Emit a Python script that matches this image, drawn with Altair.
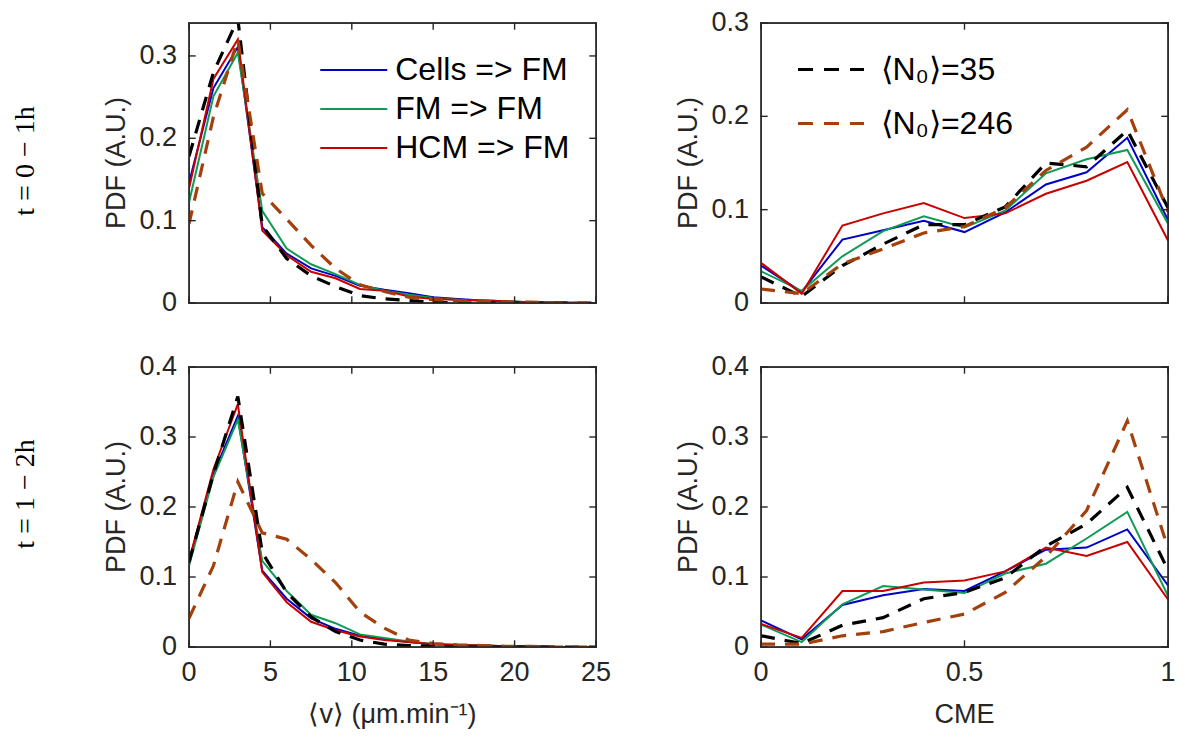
import altair as alt
import pandas as pd

# ---------------- data ----------------
v_bins = [0, 1.5, 3, 4.5, 6, 7.5, 9, 10.5, 12, 13.5, 15, 16.5, 18, 19.5, 21, 22.5, 24, 25.5]
cme_bins = [0.0, 0.1, 0.2, 0.3, 0.4, 0.5, 0.6, 0.7, 0.8, 0.9, 1.0]

solid_names = ["Cells => FM", "FM => FM", "HCM => FM"]
dashed_names = ["⟨N₀⟩=35", "⟨N₀⟩=246"]
solid_colors = ["#0000c8", "#0f9a55", "#c80000"]
dashed_colors = ["#000000", "#a3400c"]

row_labels = ["t = 0 − 1h", "t = 1 − 2h"]
y_title = "PDF (A.U.)"
v_title = "⟨v⟩ (μm.min⁻¹)"
cme_title = "CME"

# t = 0-1h, speed <v>
v_t1_cells = [0.146, 0.261, 0.311, 0.092, 0.060, 0.042, 0.033, 0.021, 0.016, 0.012, 0.007, 0.005, 0.003, 0.002, 0.001, 0.001, 0.0, 0.0]
v_t1_fm    = [0.122, 0.251, 0.304, 0.112, 0.066, 0.047, 0.035, 0.022, 0.015, 0.010, 0.006, 0.004, 0.003, 0.002, 0.001, 0.001, 0.0, 0.0]
v_t1_hcm   = [0.139, 0.272, 0.320, 0.088, 0.058, 0.038, 0.030, 0.017, 0.015, 0.008, 0.005, 0.004, 0.003, 0.002, 0.001, 0.0, 0.0, 0.0]
v_t1_n35   = [0.178, 0.280, 0.345, 0.094, 0.054, 0.033, 0.020, 0.009, 0.005, 0.003, 0.001, 0.0, 0.0, 0.0, 0.0, 0.0, 0.0, 0.0]
v_t1_n246  = [0.096, 0.226, 0.320, 0.133, 0.102, 0.070, 0.042, 0.022, 0.014, 0.007, 0.004, 0.003, 0.002, 0.001, 0.001, 0.0, 0.0, 0.0]

# t = 1-2h, speed <v>
v_t2_cells = [0.123, 0.247, 0.330, 0.109, 0.069, 0.041, 0.026, 0.016, 0.011, 0.007, 0.004, 0.003, 0.002, 0.001, 0.001, 0.0, 0.0, 0.0]
v_t2_fm    = [0.116, 0.243, 0.325, 0.123, 0.080, 0.046, 0.034, 0.018, 0.013, 0.008, 0.004, 0.003, 0.002, 0.001, 0.001, 0.0, 0.0, 0.0]
v_t2_hcm   = [0.123, 0.254, 0.347, 0.107, 0.064, 0.036, 0.024, 0.015, 0.010, 0.007, 0.004, 0.003, 0.002, 0.001, 0.001, 0.0, 0.0, 0.0]
v_t2_n35   = [0.121, 0.247, 0.358, 0.135, 0.078, 0.043, 0.022, 0.010, 0.004, 0.002, 0.001, 0.0, 0.0, 0.0, 0.0, 0.0, 0.0, 0.0]
v_t2_n246  = [0.041, 0.116, 0.236, 0.163, 0.154, 0.125, 0.092, 0.050, 0.027, 0.010, 0.005, 0.003, 0.002, 0.001, 0.001, 0.0, 0.0, 0.0]

# t = 0-1h, CME
c_t1_cells = [0.040, 0.012, 0.068, 0.078, 0.088, 0.076, 0.097, 0.127, 0.140, 0.177, 0.089]
c_t1_fm    = [0.034, 0.013, 0.050, 0.077, 0.093, 0.081, 0.099, 0.139, 0.154, 0.164, 0.085]
c_t1_hcm   = [0.043, 0.010, 0.083, 0.096, 0.107, 0.091, 0.096, 0.117, 0.131, 0.151, 0.067]
c_t1_n35   = [0.028, 0.007, 0.040, 0.063, 0.084, 0.084, 0.103, 0.150, 0.146, 0.185, 0.102]
c_t1_n246  = [0.015, 0.010, 0.042, 0.058, 0.075, 0.082, 0.102, 0.142, 0.167, 0.207, 0.098]

# t = 1-2h, CME
c_t2_cells = [0.038, 0.011, 0.060, 0.074, 0.083, 0.080, 0.108, 0.139, 0.142, 0.168, 0.088]
c_t2_fm    = [0.032, 0.007, 0.061, 0.087, 0.082, 0.077, 0.105, 0.119, 0.155, 0.193, 0.073]
c_t2_hcm   = [0.033, 0.013, 0.080, 0.080, 0.092, 0.095, 0.108, 0.142, 0.130, 0.150, 0.068]
c_t2_n35   = [0.016, 0.005, 0.031, 0.042, 0.069, 0.078, 0.099, 0.144, 0.176, 0.228, 0.110]
c_t2_n246  = [0.004, 0.004, 0.016, 0.022, 0.035, 0.047, 0.078, 0.129, 0.195, 0.323, 0.141]

v_ticks = [0, 5, 10, 15, 20, 25]
cme_ticks = [0, 0.5, 1]
y_ticks_03 = [0, 0.1, 0.2, 0.3]
y_ticks_04 = [0, 0.1, 0.2, 0.3, 0.4]

# ---------------- build tables ----------------
panels = {
    "v1": (v_bins, [v_t1_cells, v_t1_fm, v_t1_hcm, v_t1_n35, v_t1_n246]),
    "c1": (cme_bins, [c_t1_cells, c_t1_fm, c_t1_hcm, c_t1_n35, c_t1_n246]),
    "v2": (v_bins, [v_t2_cells, v_t2_fm, v_t2_hcm, v_t2_n35, v_t2_n246]),
    "c2": (cme_bins, [c_t2_cells, c_t2_fm, c_t2_hcm, c_t2_n35, c_t2_n246]),
}
all_names = solid_names + dashed_names
rows = []
for key, (xs, series) in panels.items():
    for name, ys in zip(all_names, series):
        for xv, yv in zip(xs, ys):
            rows.append({"panel": key, "series": name, "x": xv, "y": yv})
df = pd.DataFrame(rows)

W, H = 407, 280
FONT = "Liberation Sans"
FS = 27
TXT = "#262626"
TICK = 6
FRAME = "#262626"

legend_solid = alt.Legend(
    title=None, orient="none", legendX=146.75, legendY=29,
    symbolType="M-2,0L2,0", symbolSize=1122, symbolStrokeWidth=2,
    labelFont=FONT, labelFontSize=32, labelColor="black", labelLimit=400,
    rowPadding=5, labelOffset=23.5, padding=0,
)
legend_dash = alt.Legend(
    title=None, orient="none", legendX=623.5, legendY=28,
    symbolType="M-2,0L2,0", symbolSize=1089, symbolStrokeWidth=3.2, symbolDash=[15, 11],
    labelFont=FONT, labelFontSize=32, labelColor="black", labelLimit=400,
    rowPadding=19, labelOffset=31, padding=0,
)


def frame_table(xdom, ydom, xticks, yticks):
    """Box outline and inward tick segments, derived from the domains and tick lists."""
    x0, x1 = xdom
    y0, y1 = ydom
    dx = TICK / W * (x1 - x0)
    dy = TICK / H * (y1 - y0)
    recs = []
    box = [(x0, y0), (x1, y0), (x1, y1), (x0, y1), (x0, y0)]
    for i, (a, b) in enumerate(box):
        recs.append({"seg": "box", "o": i, "x": a, "y": b})
    for t in xticks:
        recs += [{"seg": f"b{t}", "o": 0, "x": t, "y": y0}, {"seg": f"b{t}", "o": 1, "x": t, "y": y0 + dy}]
        recs += [{"seg": f"t{t}", "o": 0, "x": t, "y": y1}, {"seg": f"t{t}", "o": 1, "x": t, "y": y1 - dy}]
    for t in yticks:
        recs += [{"seg": f"l{t}", "o": 0, "x": x0, "y": t}, {"seg": f"l{t}", "o": 1, "x": x0 + dx, "y": t}]
        recs += [{"seg": f"r{t}", "o": 0, "x": x1, "y": t}, {"seg": f"r{t}", "o": 1, "x": x1 - dx, "y": t}]
    return pd.DataFrame(recs)


def panel(key, xdom, xticks, ydom, yticks, xfmt, xtitle, row_label=None, lab_y=0):
    xscale = alt.Scale(domain=xdom, nice=False, zero=False)
    yscale = alt.Scale(domain=ydom, nice=False, zero=False)
    xs = alt.X("x:Q", scale=xscale, axis=None)
    ys = alt.Y("y:Q", scale=yscale, axis=None)
    base = alt.Chart(df).transform_filter(alt.datum.panel == key)
    solid = base.transform_filter(
        alt.FieldOneOfPredicate(field="series", oneOf=solid_names)
    ).mark_line(strokeWidth=2, clip=True).encode(
        x=xs, y=ys,
        color=alt.Color("series:N", scale=alt.Scale(domain=solid_names, range=solid_colors),
                        legend=legend_solid),
    )
    dashed = base.transform_filter(
        alt.FieldOneOfPredicate(field="series", oneOf=dashed_names)
    ).mark_line(strokeWidth=3.2, strokeDash=[14, 10], clip=True).encode(
        x=xs, y=ys,
        stroke=alt.Stroke("series:N", scale=alt.Scale(domain=dashed_names, range=dashed_colors),
                          legend=legend_dash),
    )
    frame = alt.Chart(frame_table(xdom, ydom, xticks, yticks)).mark_line(
        color=FRAME, strokeWidth=1.4, strokeCap="square"
    ).encode(x=xs, y=ys, detail="seg:N", order="o:Q")
    xt = pd.DataFrame({"x": xticks})
    yt = pd.DataFrame({"y": yticks})
    txt_style = dict(font=FONT, fontSize=FS, color=TXT)
    ylab = alt.Chart(yt).mark_text(align="right", baseline="middle", **txt_style).encode(
        y=ys, x=alt.value(-12), text=alt.Text("y:Q", format=".1~f"))
    ytit = alt.Chart(pd.DataFrame({"t": [y_title]})).mark_text(
        angle=270, align="center", baseline="middle", **txt_style
    ).encode(text="t:N", x=alt.value(-72), y=alt.value(H / 2))
    layers = [solid, dashed, frame, ylab, ytit]
    if xtitle is not None:
        xlab = alt.Chart(xt).mark_text(align="center", baseline="top", **txt_style).encode(
            x=xs, y=alt.value(H + 13), text=alt.Text("x:Q", format=xfmt))
        xtit = alt.Chart(pd.DataFrame({"t": [xtitle]})).mark_text(
            align="center", baseline="middle", **txt_style
        ).encode(text="t:N", x=alt.value(W / 2), y=alt.value(H + 68))
        layers += [xlab, xtit]
    if row_label is not None:
        txt = alt.Chart(pd.DataFrame({"label": [row_label]})).mark_text(
            angle=270, font="Liberation Serif", fontSize=28, align="center",
            baseline="middle", color="black"
        ).encode(text="label:N", x=alt.value(-163), y=alt.value(lab_y))
        layers.append(txt)
    return alt.layer(*layers).properties(width=W, height=H)


tl = panel("v1", [0, 25], v_ticks, [0, 0.34], y_ticks_03, "d", None, row_labels[0], 138)
tr = panel("c1", [0, 1], cme_ticks, [0, 0.3], y_ticks_03, ".1~f", None)
bl = panel("v2", [0, 25], v_ticks, [0, 0.4], y_ticks_04, "d", v_title, row_labels[1], 127)
br = panel("c2", [0, 1], cme_ticks, [0, 0.4], y_ticks_04, ".1~f", cme_title)

chart = alt.concat(
    tl, tr, bl, br, columns=2, bounds="flush",
    spacing=alt.RowColnumber(row=64, column=165),
).properties(
    padding={"left": 3, "top": 0, "right": 0, "bottom": 0},
    background="white",
).configure_view(
    stroke=FRAME, strokeWidth=1.3, strokeOpacity=1
)

chart.save("out.html", embed_options={"renderer": "svg", "actions": False})
